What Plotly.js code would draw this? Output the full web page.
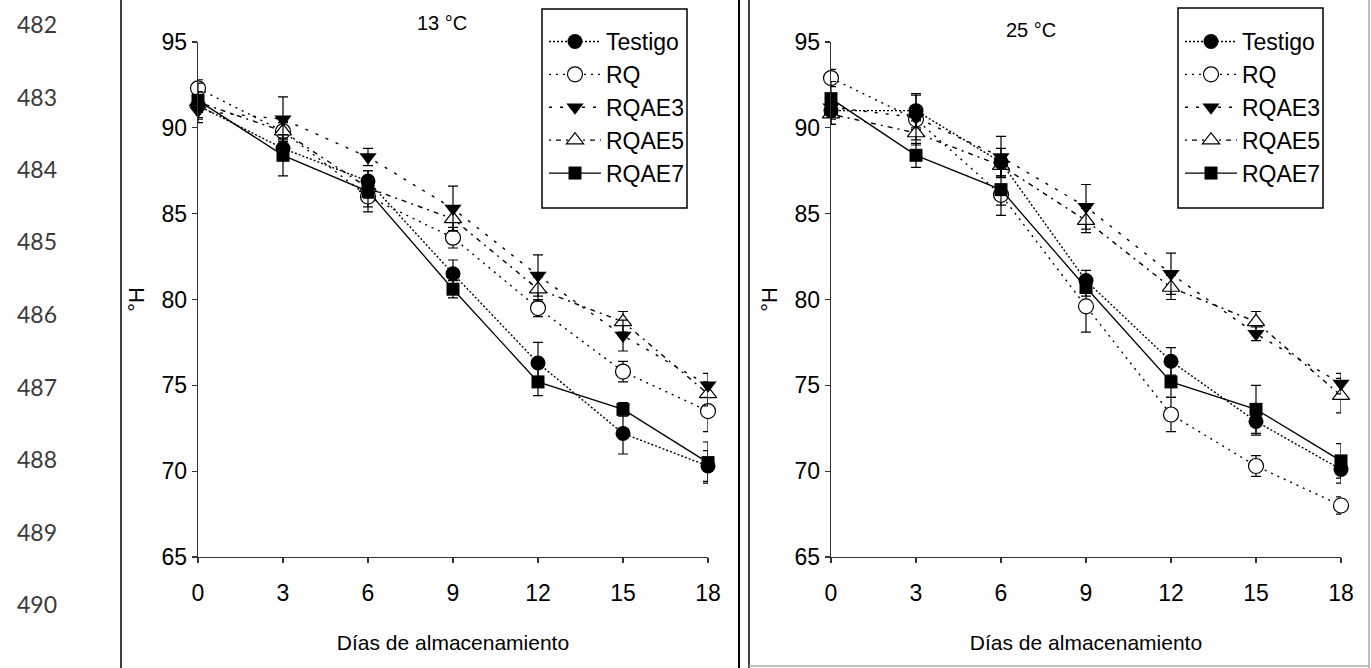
<!DOCTYPE html>
<html>
<head>
<meta charset="utf-8">
<script src="https://cdn.plot.ly/plotly-3.0.1.min.js"></script>
<style>html,body{margin:0;padding:0;background:#fff;}#chart{width:1371px;height:668px;}</style>
</head>
<body>
<div id="chart"></div>
<script>
// ---- data ----
const days = [0, 3, 6, 9, 12, 15, 18];
const seriesNames = ["Testigo", "RQ", "RQAE3", "RQAE5", "RQAE7"];
const panelLabels = ["13 °C", "25 °C"];
const xTitle = "Días de almacenamiento";
const yTitle = "°H";
const lineNumbers = ["482", "483", "484", "485", "486", "487", "488", "489", "490"];

// 13 °C
const t13_Testigo = [91.3, 88.8, 86.9, 81.5, 76.3, 72.2, 70.3];
const t13_RQ      = [92.3, 89.8, 86.0, 83.6, 79.5, 75.8, 73.5];
const t13_RQAE3   = [91.0, 90.5, 88.3, 85.3, 81.4, 77.9, 75.0];
const t13_RQAE5   = [91.5, 89.8, 86.5, 84.7, 80.6, 78.7, 74.5];
const t13_RQAE7   = [91.6, 88.4, 86.3, 80.6, 75.2, 73.6, 70.5];
const e13_Testigo = [0.8, 0.6, 0.6, 0.8, 1.2, 1.2, 0.9];
const e13_RQ      = [0.5, 0.5, 0.6, 0.6, 0.5, 0.6, 1.2];
const e13_RQAE3   = [0.7, 1.3, 0.5, 1.3, 1.2, 0.9, 0.7];
const e13_RQAE5   = [0.6, 0.7, 0.6, 0.7, 0.7, 0.6, 0.7];
const e13_RQAE7   = [1.0, 1.2, 1.2, 0.5, 0.8, 0.4, 1.2];

// 25 °C
const t25_Testigo = [91.0, 91.0, 88.0, 81.1, 76.4, 72.9, 70.1];
const t25_RQ      = [92.9, 90.5, 86.1, 79.6, 73.3, 70.3, 68.0];
const t25_RQAE3   = [91.2, 90.6, 88.3, 85.4, 81.5, 78.0, 75.1];
const t25_RQAE5   = [90.8, 89.7, 87.8, 84.6, 80.7, 78.7, 74.4];
const t25_RQAE7   = [91.7, 88.4, 86.4, 80.7, 75.2, 73.6, 70.6];
const e25_Testigo = [0.8, 1.0, 0.8, 0.6, 0.8, 0.8, 0.8];
const e25_RQ      = [0.5, 0.6, 0.6, 1.5, 1.0, 0.6, 0.5];
const e25_RQAE3   = [0.7, 1.3, 1.2, 1.3, 1.2, 0.4, 0.6];
const e25_RQAE5   = [0.6, 0.7, 0.6, 0.7, 0.7, 0.6, 1.0];
const e25_RQAE7   = [1.0, 0.7, 1.5, 0.5, 0.9, 1.4, 1.0];

const panelValues = [
  [t13_Testigo, t13_RQ, t13_RQAE3, t13_RQAE5, t13_RQAE7],
  [t25_Testigo, t25_RQ, t25_RQAE3, t25_RQAE5, t25_RQAE7]
];
const panelErrors = [
  [e13_Testigo, e13_RQ, e13_RQAE3, e13_RQAE5, e13_RQAE7],
  [e25_Testigo, e25_RQ, e25_RQAE3, e25_RQAE5, e25_RQAE7]
];

// ---- styles ----
const W = 1371, H = 668;
const FONT = '"Liberation Sans", Arial, sans-serif';
const styles = [
  {marker: {symbol: "circle", size: 15, color: "#000"}, line: {dash: "2px,2px", width: 1.4}},
  {marker: {symbol: "circle", size: 15, color: "#fff", line: {color: "#000", width: 1.2}}, line: {dash: "2px,5px", width: 1.4}},
  {marker: {symbol: "triangle-down", size: 15, color: "#000"}, line: {dash: "3px,8px", width: 1.4}},
  {marker: {symbol: "triangle-up", size: 15, color: "#fff", line: {color: "#000", width: 1.2}}, line: {dash: "2px,5px,5px,5px", width: 1.4}},
  {marker: {symbol: "square", size: 13, color: "#000"}, line: {dash: "solid", width: 1.3}}
];
const drawOrder = [1, 3, 2, 0, 4];

const traces = [];
for (let p = 0; p < 2; p++) {
  for (const s of drawOrder) {
    traces.push({
      type: "scatter",
      mode: "lines+markers",
      name: seriesNames[s],
      x: days,
      y: panelValues[p][s],
      xaxis: p === 0 ? "x" : "x2",
      yaxis: p === 0 ? "y" : "y2",
      legend: p === 0 ? "legend" : "legend2",
      legendrank: s + 1,
      cliponaxis: false,
      marker: styles[s].marker,
      line: Object.assign({color: "#000"}, styles[s].line),
      error_y: {type: "data", array: panelErrors[p][s], visible: true, color: "#000", thickness: 1.2, width: 5}
    });
  }
}

function xAxis(dom, anchor) {
  return {
    domain: dom, anchor: anchor, range: [0, 18], tickvals: days,
    ticks: "outside", ticklen: 5, tickwidth: 1.2, tickcolor: "#333",
    ticklabelstandoff: 10,
    showline: true, linecolor: "#333", linewidth: 1.3,
    showgrid: false, zeroline: false, automargin: false,
    tickfont: {family: FONT, size: 23, color: "#000"},
    title: {text: xTitle, font: {family: FONT, size: 21, color: "#000"}, standoff: 30}
  };
}
function yAxis(dom, anchor) {
  return {
    domain: dom, anchor: anchor, range: [65, 95], dtick: 5, tick0: 65,
    ticks: "outside", ticklen: 5, tickwidth: 1.2, tickcolor: "#333",
    showline: true, linecolor: "#333", linewidth: 1.3,
    showgrid: false, zeroline: false, automargin: false,
    tickfont: {family: FONT, size: 23, color: "#000"},
    title: {text: yTitle, font: {family: FONT, size: 22, color: "#000"}, standoff: 10}
  };
}

const yDom = [1 - 557 / H, 1 - 42 / H];
const legendStyle = (x) => ({
  x: x, y: 1 - 20 / H, xanchor: "left", yanchor: "top",
  xref: "paper", yref: "paper",
  borderwidth: 0, bgcolor: "rgba(0,0,0,0)",
  font: {family: FONT, size: 23, color: "#000"},
  traceorder: "normal", tracegroupgap: 0, itemwidth: 52
});

const annotations = [
  {text: panelLabels[0], x: 442 / W, y: 1 - 23 / H, xref: "paper", yref: "paper", showarrow: false,
   xanchor: "center", yanchor: "middle", font: {family: FONT, size: 20, color: "#000"}},
  {text: panelLabels[1], x: 1031 / W, y: 1 - 30 / H, xref: "paper", yref: "paper", showarrow: false,
   xanchor: "center", yanchor: "middle", font: {family: FONT, size: 20, color: "#000"}}
];
lineNumbers.forEach((t, i) => {
  annotations.push({text: t, x: 37 / W, y: 1 - (24 + i * 72.5) / H, xref: "paper", yref: "paper",
    xanchor: "center", yanchor: "middle", showarrow: false,
    font: {family: "Lato, 'Open Sans', sans-serif", size: 23, color: "#3a3a3a"}});
});

const px = (v) => v / W, py = (v) => 1 - v / H;
const shapes = [
  {type: "line", xref: "paper", yref: "paper", x0: px(121), x1: px(121), y0: 0, y1: 1, line: {color: "#000", width: 1.5}},
  {type: "line", xref: "paper", yref: "paper", x0: px(739), x1: px(739), y0: 0, y1: 1, line: {color: "#000", width: 2}},
  {type: "line", xref: "paper", yref: "paper", x0: px(749), x1: px(749), y0: 0, y1: 1, line: {color: "#000", width: 1.5}},
  {type: "line", xref: "paper", yref: "paper", x0: px(1369), x1: px(1369), y0: 0, y1: 1, line: {color: "#aaa", width: 1.5}},
  {type: "line", xref: "paper", yref: "paper", x0: px(749), x1: px(1369), y0: py(666), y1: py(666), line: {color: "#aaa", width: 1.5}},
  // legend frames
  {type: "rect", xref: "paper", yref: "paper", x0: px(542), x1: px(687), y0: py(208), y1: py(9), line: {color: "#000", width: 1.5}, fillcolor: "#fff"},
  {type: "rect", xref: "paper", yref: "paper", x0: px(1178), x1: px(1323), y0: py(208), y1: py(8), line: {color: "#000", width: 1.5}, fillcolor: "#fff"}
];

const layout = {
  width: W, height: H,
  margin: {l: 0, r: 0, t: 0, b: 0, pad: 0},
  paper_bgcolor: "#fff", plot_bgcolor: "rgba(0,0,0,0)",
  showlegend: true,
  xaxis: xAxis([198 / W, 708 / W], "y"),
  yaxis: yAxis(yDom, "x"),
  xaxis2: xAxis([831 / W, 1341 / W], "y2"),
  yaxis2: yAxis(yDom, "x2"),
  legend: legendStyle(px(544)),
  legend2: legendStyle(px(1180)),
  annotations: annotations,
  shapes: shapes,
  font: {family: FONT, color: "#000"}
};

Plotly.newPlot("chart", traces, layout, {displayModeBar: false, staticPlot: true});
</script>
</body>
</html>
